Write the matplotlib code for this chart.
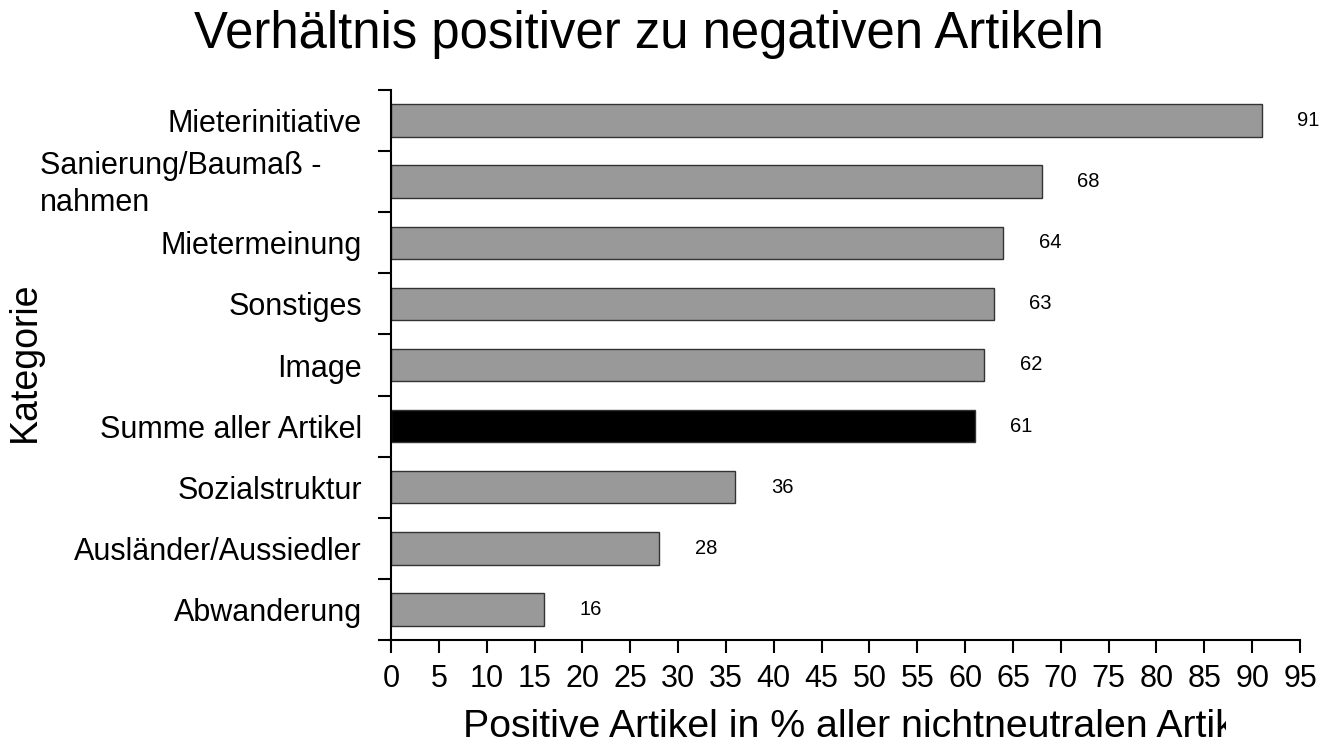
import matplotlib
matplotlib.use("Agg")
import matplotlib.pyplot as plt
from matplotlib.transforms import Bbox, TransformedBbox

# ---------- data ----------
categories = [
    "Mieterinitiative",
    "Sanierung/Baumaß -\nnahmen",
    "Mietermeinung",
    "Sonstiges",
    "Image",
    "Summe aller Artikel",
    "Sozialstruktur",
    "Ausländer/Aussiedler",
    "Abwanderung",
]
values = [91, 68, 64, 63, 62, 61, 36, 28, 16]
highlight = "Summe aller Artikel"
xticks = list(range(0, 100, 5))

title = "Verhältnis positiver zu negativen Artikeln"
xlabel = "Positive Artikel in % aller nichtneutralen Artikel"
ylabel = "Kategorie"

plt.rcParams["font.family"] = ["Liberation Sans", "DejaVu Sans"]

W, H = 1332, 742
fig = plt.figure(figsize=(W / 100, H / 100), dpi=100)
ax = fig.add_axes([391 / W, 1 - 640 / H, (1300 - 391) / W, (640 - 90) / H])

ypos = list(range(len(categories)))
colors = ["black" if c == highlight else "#999999" for c in categories]
ax.barh(ypos, values, height=0.53, color=colors, edgecolor="#333333", linewidth=1)

for y, v in zip(ypos, values):
    ax.text(v + 4.9, y, str(v), ha="center", va="center", fontsize=14.5)

ax.set_xlim(0, 95)
ax.set_ylim(len(categories) - 0.5, -0.5)
ax.set_xticks(xticks)
ax.tick_params(axis="x", labelsize=22, length=9.5, width=1.5, pad=8)

# labels on major ticks, tick marks at category boundaries
ax.set_yticks(ypos)
ax.set_yticklabels(["" if "\n" in c else c for c in categories])
ax.set_yticks([i - 0.5 for i in range(len(categories) + 1)], minor=True)
ax.tick_params(axis="y", which="major", length=0, labelsize=22, pad=21)
ax.tick_params(axis="y", which="minor", length=9.5, width=1.5)

# the wrapped label sits left aligned
for y, c in zip(ypos, categories):
    if "\n" in c:
        ax.text((40 - 391) / (1300 - 391), y + 0.05, c, transform=ax.get_yaxis_transform(),
                ha="left", va="center", multialignment="left", fontsize=22,
                linespacing=1.3)

for s in ["top", "right"]:
    ax.spines[s].set_visible(False)
for s in ["left", "bottom"]:
    ax.spines[s].set_linewidth(1.5)

fig.text(649 / W, 1 - 48 / H, title, ha="center", va="baseline", fontsize=36.6)
fig.text(25 / W, 1 - 362 / H, ylabel, rotation=90, ha="center", va="center", fontsize=27)

# x label is cut off on the right like in the original
xl = fig.text(463 / W, 5 / H, xlabel, ha="left", va="baseline", fontsize=28.3)
xl.set_clip_on(True)
xl.set_clip_box(TransformedBbox(Bbox([[0, 0], [1226 / W, 1]]), fig.transFigure))

fig.savefig("out.png", dpi=100)
